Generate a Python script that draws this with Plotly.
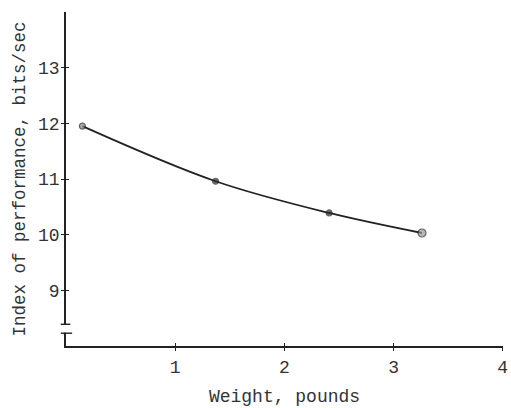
import plotly.graph_objects as go

weight_lb = [0.15, 1.37, 2.41, 3.26]
index_perf = [11.95, 10.96, 10.39, 10.03]
marker_fill = ["#8a8a8a", "#2a2a2a", "#2a2a2a", "#9a9a9a"]
x_ticks = [1, 2, 3, 4]
y_ticks = [9, 10, 11, 12, 13]

FONT = "Liberation Mono, Courier New, monospace"
INK = "#222222"

fig = go.Figure()
fig.add_trace(go.Scatter(
    x=weight_lb, y=index_perf, mode="lines",
    line=dict(shape="spline", smoothing=1.0, color=INK, width=1.8),
    hoverinfo="skip", showlegend=False))
fig.add_trace(go.Scatter(
    x=weight_lb, y=index_perf, mode="markers",
    marker=dict(size=[6, 6, 6, 8], color=marker_fill, line=dict(color=INK, width=1.2)),
    showlegend=False))

axis_common = dict(showgrid=False, zeroline=False, ticks="outside", ticklen=3,
                   tickwidth=1.2, tickcolor=INK, ticklabeloverflow="allow", automargin=False,
                   tickfont=dict(family=FONT, size=18, color="#333"))

fig.update_layout(
    width=511, height=408,
    margin=dict(l=66, r=8, t=12, b=62),
    paper_bgcolor="white", plot_bgcolor="white",
    font=dict(family=FONT, color="#333"),
    xaxis=dict(range=[0, 4.002], tickvals=x_ticks, showline=True,
               linecolor=INK, linewidth=1.5, ticklabelstandoff=1,
               title=dict(text="Weight, pounds", font=dict(family=FONT, size=18), standoff=12),
               **axis_common),
    yaxis=dict(range=[8, 14], tickvals=y_ticks, showline=True, linecolor=INK, linewidth=1.8,
               ticklabelstandoff=-2,
               title=dict(text="Index of performance, bits/sec", font=dict(family=FONT, size=17.5), standoff=8),
               **axis_common),
    xaxis2=dict(range=[0, 4.002], tickvals=x_ticks, overlaying="x", side="bottom", anchor="y",
                showticklabels=False, showgrid=False, zeroline=False, ticks="inside",
                ticklen=3, tickwidth=1.2, tickcolor=INK, showline=False),
    yaxis2=dict(range=[8, 14], tickvals=y_ticks, overlaying="y", side="left", anchor="x",
                showticklabels=False, showgrid=False, zeroline=False, ticks="inside",
                ticklen=3, tickwidth=1.2, tickcolor=INK, showline=False),
)
# dummy trace to activate overlay axes
fig.add_trace(go.Scatter(x=[None], y=[None], xaxis="x2", yaxis="y2", showlegend=False))

# axis break marks near bottom of y axis
fig.add_shape(type="rect", xref="paper", yref="y", x0=-0.02, x1=0.02, y0=8.24, y1=8.38,
              fillcolor="white", line=dict(width=0), layer="above")
fig.add_shape(type="line", xref="paper", yref="y", x0=-0.012, x1=0.01, y0=8.39, y1=8.39,
              line=dict(color=INK, width=1.4), layer="above")
fig.add_shape(type="line", xref="paper", yref="y", x0=-0.012, x1=0.014, y0=8.23, y1=8.23,
              line=dict(color=INK, width=1.4), layer="above")

fig.write_html("out.html")
